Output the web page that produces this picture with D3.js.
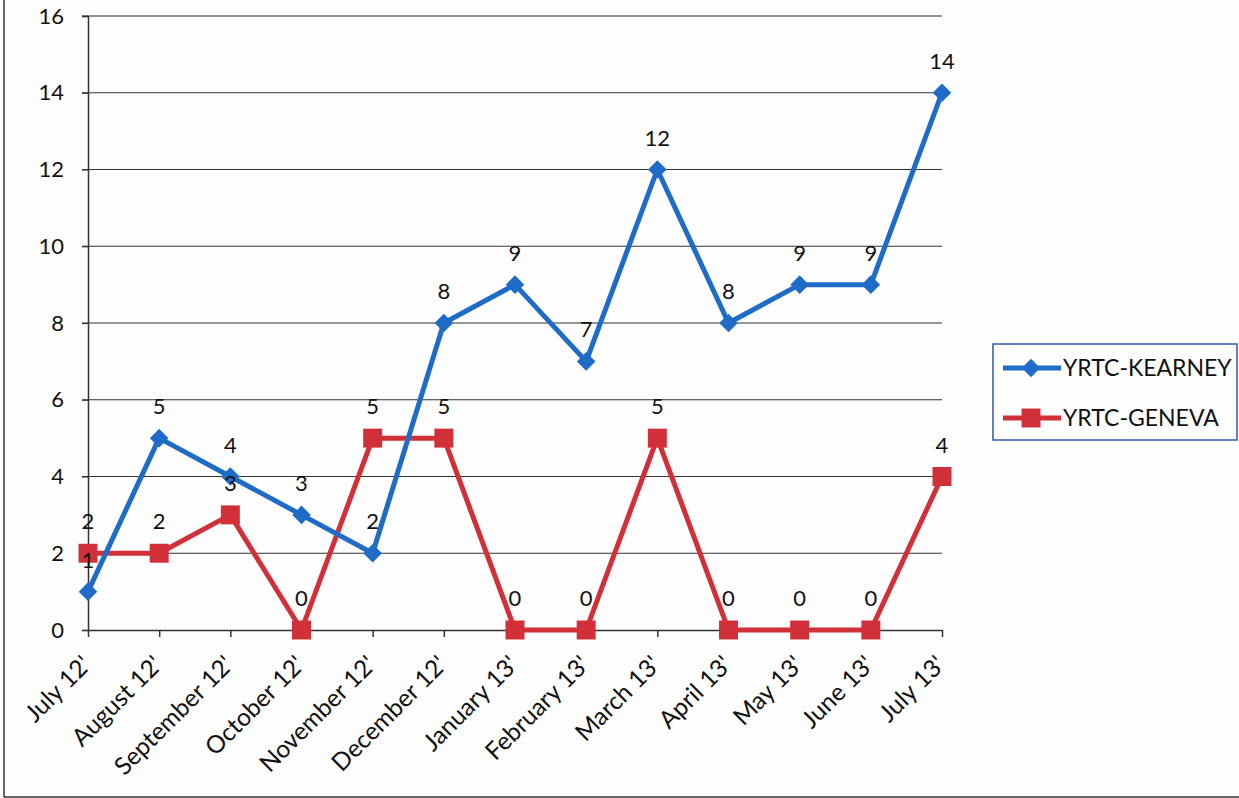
<!DOCTYPE html>
<html>
<head>
<meta charset="utf-8">
<script src="https://cdn.jsdelivr.net/npm/d3@7"></script>
<style>
  body { margin: 0; background: #fdfdfe; }
  svg text { font-family: Lato, "Open Sans", sans-serif; fill: #111; }
</style>
</head>
<body>
<svg id="chart"></svg>
<script>
const months = ["July 12'", "August 12'", "September 12'", "October 12'", "November 12'", "December 12'",
  "January 13'", "February 13'", "March 13'", "April 13'", "May 13'", "June 13'", "July 13'"];
const kearney = [1, 5, 4, 3, 2, 8, 9, 7, 12, 8, 9, 9, 14];
const geneva = [2, 2, 3, 0, 5, 5, 0, 0, 5, 0, 0, 0, 4];
const yTicks = [0, 2, 4, 6, 8, 10, 12, 14, 16];
const seriesNames = ["YRTC-KEARNEY", "YRTC-GENEVA"];

const width = 1239, height = 798;
const blue = "#1f6cc8", red = "#d23039";

const svg = d3.select("#chart")
  .attr("width", width)
  .attr("height", height);

// page frame of the scan
svg.append("line").attr("x1", 4).attr("x2", 4).attr("y1", 0).attr("y2", 797)
  .attr("stroke", "#333").attr("stroke-width", 1.5);
svg.append("line").attr("x1", 4).attr("x2", width).attr("y1", 797).attr("y2", 797)
  .attr("stroke", "#333").attr("stroke-width", 1.5);

// scales
const xScale = d3.scalePoint()
  .domain(months)
  .range([88, 942]);

const yScale = d3.scaleLinear()
  .domain([0, 16])
  .range([630, 16]);

// grid lines
svg.selectAll(".y-grid-line")
  .data(yTicks.filter(d => d > 0))
  .enter().append("line")
  .attr("class", "y-grid-line")
  .attr("x1", 82)
  .attr("x2", 942)
  .attr("y1", d => yScale(d))
  .attr("y2", d => yScale(d))
  .attr("stroke", "#333")
  .attr("stroke-width", 1.2);

// y axis
const yAxis = svg.append("g")
  .attr("transform", "translate(88,0)")
  .call(d3.axisLeft(yScale).tickValues(yTicks).tickSize(6).tickPadding(18));
yAxis.select(".domain").attr("stroke", "#333").attr("stroke-width", 1.5);
yAxis.selectAll(".tick line").attr("stroke", "#333").attr("stroke-width", 1.2);
yAxis.selectAll(".tick text").style("font-size", "22px").attr("fill", "#111");

// x axis
const xAxis = svg.append("g")
  .attr("transform", `translate(0,${yScale(0)})`)
  .call(d3.axisBottom(xScale).tickSize(7).tickSizeOuter(0));
xAxis.select(".domain").attr("stroke", "#333").attr("stroke-width", 1.5);
xAxis.selectAll(".tick line").attr("stroke", "#333").attr("stroke-width", 1.5);
xAxis.selectAll(".tick text")
  .style("font-size", "24.5px")
  .attr("fill", "#111")
  .attr("text-anchor", "end")
  .attr("y", 0)
  .attr("dy", "0.35em")
  .attr("transform", "translate(-2,30) rotate(-45)");

// series
const line = d3.line()
  .x((d, i) => xScale(months[i]))
  .y(d => yScale(d));

const diamond = d3.symbol().type(d3.symbolDiamond2).size(220);
const square = d3.symbol().type(d3.symbolSquare).size(360);

function drawSeries(values, color, symbol) {
  svg.append("path")
    .datum(values)
    .attr("fill", "none")
    .attr("stroke", color)
    .attr("stroke-width", 5)
    .attr("stroke-linejoin", "round")
    .attr("d", line);

  svg.selectAll(null)
    .data(values)
    .enter().append("path")
    .attr("d", symbol)
    .attr("transform", (d, i) => `translate(${xScale(months[i])},${yScale(d)})`)
    .attr("fill", color);
}

drawSeries(geneva, red, square);
drawSeries(kearney, blue, diamond);

// data labels
function drawLabels(values) {
  svg.selectAll(null)
    .data(values)
    .enter().append("text")
    .attr("x", (d, i) => xScale(months[i]))
    .attr("y", d => yScale(d) - 24)
    .attr("text-anchor", "middle")
    .style("font-size", "22px")
    .text(d => d);
}
drawLabels(kearney);
drawLabels(geneva);

// legend
const legend = svg.append("g").attr("transform", "translate(993,344)");
legend.append("rect")
  .attr("width", 244).attr("height", 96)
  .attr("fill", "#fdfdfe")
  .attr("stroke", "#2f5aa8").attr("stroke-width", 1.5);

[[blue, diamond], [red, square]].forEach(([color, symbol], i) => {
  const y = 24 + i * 50;
  legend.append("line")
    .attr("x1", 10).attr("x2", 68).attr("y1", y).attr("y2", y)
    .attr("stroke", color).attr("stroke-width", 5);
  legend.append("path")
    .attr("d", symbol)
    .attr("transform", `translate(38,${y})`)
    .attr("fill", color);
  legend.append("text")
    .attr("x", 70).attr("y", y)
    .attr("dy", "0.35em")
    .style("font-size", "23px")
    .text(seriesNames[i]);
});
</script>
</body>
</html>
